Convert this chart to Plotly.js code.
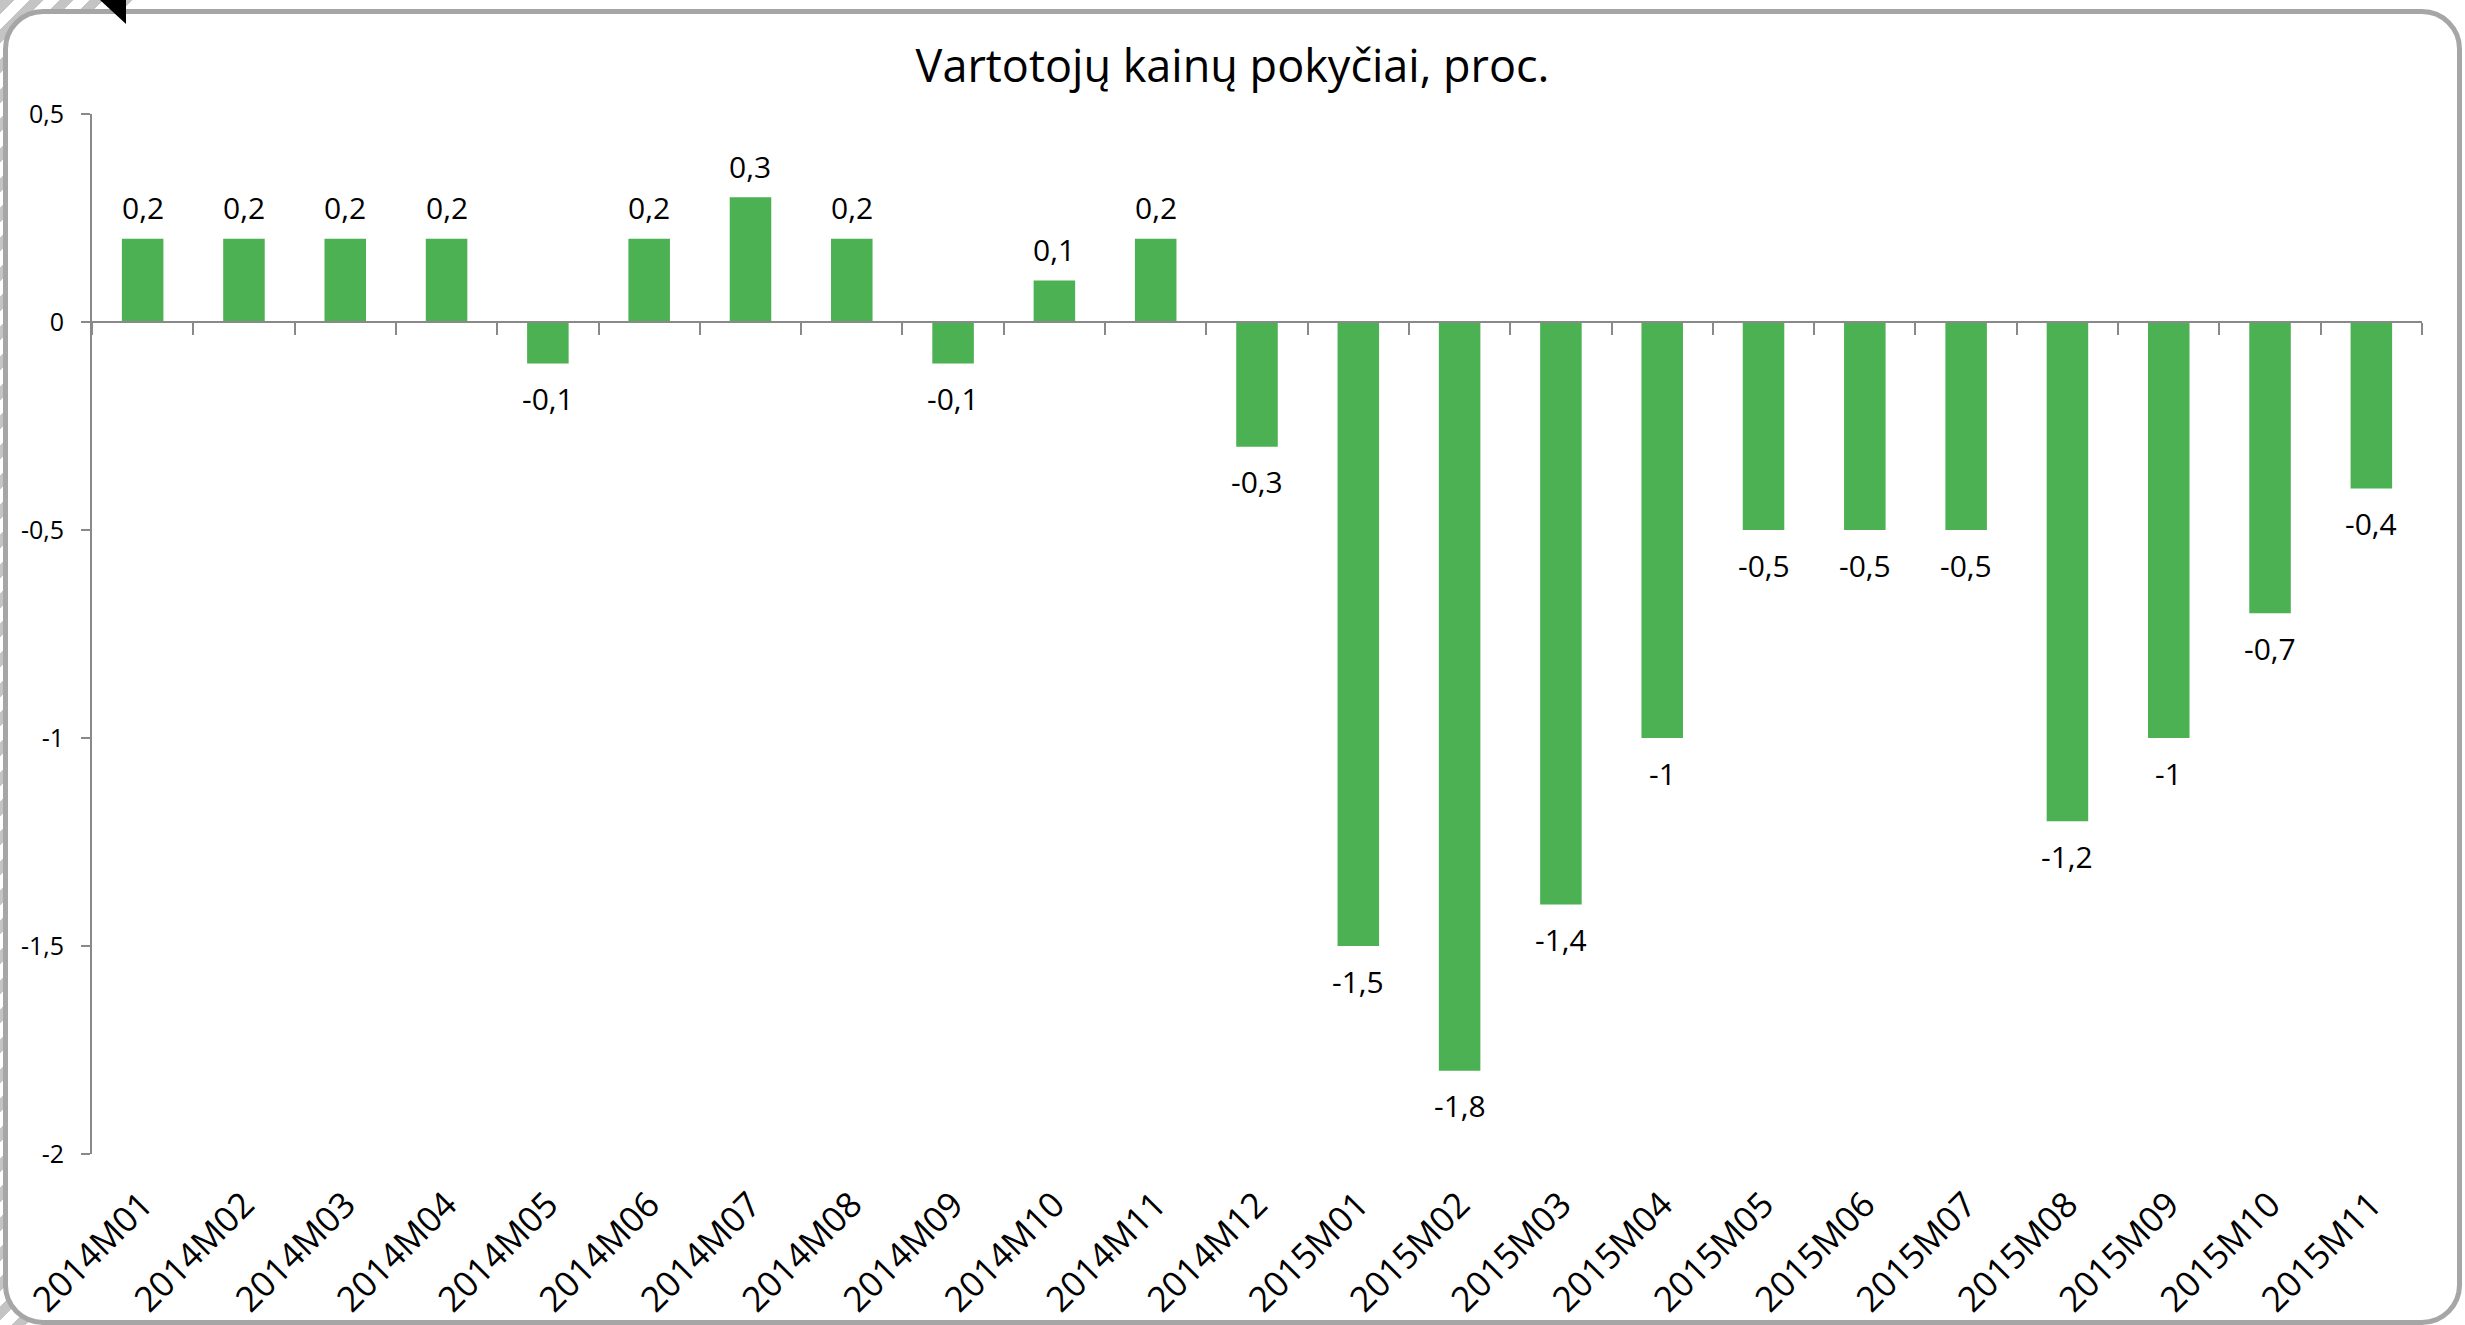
<!DOCTYPE html>
<html>
<head>
<meta charset="utf-8">
<script src="https://cdn.plot.ly/plotly-3.0.1.min.js"></script>
<style>
  html, body { margin: 0; padding: 0; background: #ffffff; width: 2465px; height: 1325px; overflow: hidden; }
  #hatch { position: absolute; left: 0; top: 0; width: 140px; height: 1325px;
    background: repeating-linear-gradient(135deg, #c4c4c4 0px, #c4c4c4 10px, #ffffff 10px, #ffffff 21px); }
  #frame { position: absolute; left: 3px; top: 9px; width: 2449px; height: 1306px;
    border: 5px solid #a6a6a6; border-radius: 40px; background: #ffffff; }
  #cursor { position: absolute; left: 100px; top: 0px; width: 26px; height: 24px; background: #000;
    clip-path: polygon(0 0, 100% 0, 100% 100%); }
  #chart { position: absolute; left: 0; top: 0; width: 2465px; height: 1325px; }
</style>
</head>
<body>
<div id="hatch"></div>
<div id="frame"></div>
<div id="cursor"></div>
<div id="chart"></div>
<script>
const categories = ['2014M01','2014M02','2014M03','2014M04','2014M05','2014M06','2014M07','2014M08','2014M09','2014M10','2014M11','2014M12',
  '2015M01','2015M02','2015M03','2015M04','2015M05','2015M06','2015M07','2015M08','2015M09','2015M10','2015M11'];
const values = [0.2, 0.2, 0.2, 0.2, -0.1, 0.2, 0.3, 0.2, -0.1, 0.1, 0.2, -0.3,
  -1.5, -1.8, -1.4, -1, -0.5, -0.5, -0.5, -1.2, -1, -0.7, -0.4];
const yTickVals = [0.5, 0, -0.5, -1, -1.5, -2];
const yTickText = ['0,5', '0', '-0,5', '-1', '-1,5', '-2'];
const titleText = 'Vartotojų kainų pokyčiai, proc.';

const fontFam = '"Open Sans", "Noto Sans", sans-serif';
const axisGray = '#898989';
const barGreen = 'rgb(76,177,82)';

const fmt = v => String(v).replace('.', ',');

const bars = {
  type: 'bar', x: categories, y: values,
  marker: { color: barGreen, line: { width: 0 } },
  hoverinfo: 'x+y', showlegend: false
};
const axisHelper = {
  type: 'scatter', mode: 'markers', x: categories, y: values,
  xaxis: 'x2', yaxis: 'y', marker: { opacity: 0, size: 1 },
  hoverinfo: 'skip', showlegend: false
};

const annotations = categories.map((c, i) => ({
  x: c, y: values[i], xref: 'x', yref: 'y',
  text: fmt(values[i]), showarrow: false,
  xanchor: 'center', yanchor: 'middle',
  yshift: values[i] >= 0 ? 31 : -35,
  font: { family: fontFam, size: 30, color: '#000000' }
}));

const layout = {
  width: 2465, height: 1325,
  paper_bgcolor: 'rgba(0,0,0,0)', plot_bgcolor: 'rgba(0,0,0,0)',
  margin: { l: 92, r: 43, t: 114, b: 171, pad: 0 },
  separators: ', ',
  bargap: 0.59,
  title: { text: titleText, x: 0.5, xref: 'container', y: 1 - 66 / 1325, yref: 'container', yanchor: 'middle',
    font: { family: fontFam, size: 45, color: '#000000' } },
  xaxis: {
    type: 'category', range: [-0.5, categories.length - 0.5], fixedrange: true,
    showline: false, ticks: '', showgrid: false, zeroline: false, ticklabelstandoff: 22,
    tickangle: -45, tickfont: { family: fontFam, size: 35, color: '#000000' }
  },
  xaxis2: {
    type: 'category', overlaying: 'x', anchor: 'free', position: 0.8, side: 'bottom',
    range: [-0.5, categories.length - 0.5], fixedrange: true,
    showline: true, linecolor: axisGray, linewidth: 2,
    ticks: 'outside', ticklen: 12, tickwidth: 2, tickcolor: axisGray, tickson: 'boundaries',
    showticklabels: false, showgrid: false, zeroline: false
  },
  yaxis: {
    range: [-2, 0.5], fixedrange: true, tickvals: yTickVals, ticktext: yTickText,
    showline: true, linecolor: axisGray, linewidth: 2,
    ticks: 'outside', ticklen: 9, tickwidth: 2, tickcolor: axisGray,
    showgrid: false, zeroline: false, ticklabelstandoff: 12,
    tickfont: { family: fontFam, size: 25, color: '#000000' }
  },
  annotations: annotations
};

Plotly.newPlot('chart', [bars, axisHelper], layout, { displayModeBar: false, staticPlot: true });
</script>
</body>
</html>
